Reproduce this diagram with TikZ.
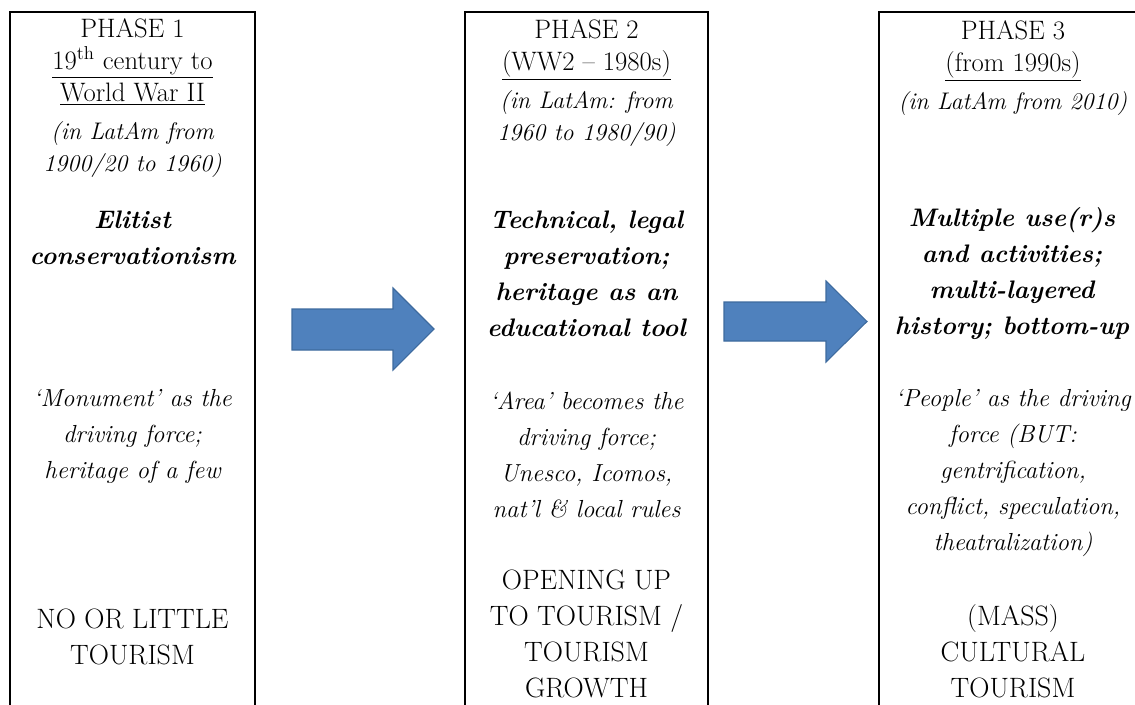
\documentclass[tikz,border=0pt]{standalone}
\usepackage{fontspec}
\definecolor{arrowfill}{HTML}{4F81BD}
\definecolor{arrowline}{HTML}{3D6A9E}
\tikzset{
  phasebox/.style={line width=1.5pt},
  headtext/.style={align=center, inner sep=0pt, font=\fontsize{20}{24}\selectfont},
  keytext/.style={align=center, inner sep=0pt, font=\fontsize{19}{27}\selectfont\bfseries\itshape},
  notetext/.style={align=center, inner sep=0pt, font=\fontsize{18.5}{27}\selectfont\itshape},
  tourtext/.style={align=center, inner sep=0pt, font=\fontsize{21}{27}\selectfont},
  blockarrow/.style={fill=arrowfill, draw=arrowline, line width=0.8pt, line join=miter}
}
\newcommand{\headit}[1]{{\fontsize{18}{24}\selectfont\itshape #1}}
\begin{document}
\begin{tikzpicture}[x=0.75pt, y=-0.75pt]
        \useasboundingbox (0,0) rectangle (1135,704);

        % Riquadri
        \draw[phasebox] (10,706) -- (10,12) -- (255,12) -- (255,706);
        \draw[phasebox] (465,706) -- (465,12) -- (708,12) -- (708,706);
        \draw[phasebox] (879,706) -- (879,12) -- (1140,12);

        % Frecce
        \filldraw[blockarrow] (292,309) -- (393,309) -- (393,288) -- (434,329) -- (393,370) -- (393,350) -- (292,350) -- cycle;
        \filldraw[blockarrow] (724,302) -- (826,302) -- (826,281) -- (867,321.5) -- (826,362) -- (826,341) -- (724,341) -- cycle;

        % Fase 1
        \node[headtext] (headA) at (132.5,98) {PHASE 1\\ \underline{19\textsuperscript{th} century to}\\ \underline{World War II}\\[4pt] \headit{(in LatAm from}\\ \headit{1900/20 to 1960)}};
        \node[keytext] (keyA) at (132.5,238) {Elitist\\ conservationism};
        \node[notetext] (noteA) at (132.5,436) {`Monument' as the\\ driving force;\\ heritage of a few};
        \node[tourtext] (tourA) at (132.5,636.5) {NO OR LITTLE\\ TOURISM};

        % Fase 2
        \node[headtext] (headB) at (586.5,83) {PHASE 2\\ \underline{(WW2 -- 1980s)}\\[4pt] \headit{(in LatAm: from}\\ \headit{1960 to 1980/90)}};
        \node[keytext] (keyB) at (586.5,274) {Technical, legal\\ preservation;\\ heritage as an\\ educational tool};
        \node[notetext] (noteB) at (586.5,455) {`Area' becomes the\\ driving force;\\ Unesco, Icomos,\\ nat'l \& local rules};
        \node[tourtext] (tourB) at (586.5,634) {OPENING UP\\ TO TOURISM /\\ TOURISM\\ GROWTH};

        % Fase 3
        \node[headtext] (headC) at (1013,68) {PHASE 3\\ \underline{(from 1990s)}\\[4pt] \headit{(in LatAm from 2010)}};
        \node[keytext] (keyC) at (1012,274) {Multiple use(r)s\\ and activities;\\ multi-layered\\ history; bottom-up};
        \node[notetext] (noteC) at (1013,473) {`People' as the driving\\ force (BUT:\\ gentrification,\\ conflict, speculation,\\ theatralization)};
        \node[tourtext] (tourC) at (1013,651) {(MASS)\\ CULTURAL\\ TOURISM};

    \end{tikzpicture}
\end{document}
